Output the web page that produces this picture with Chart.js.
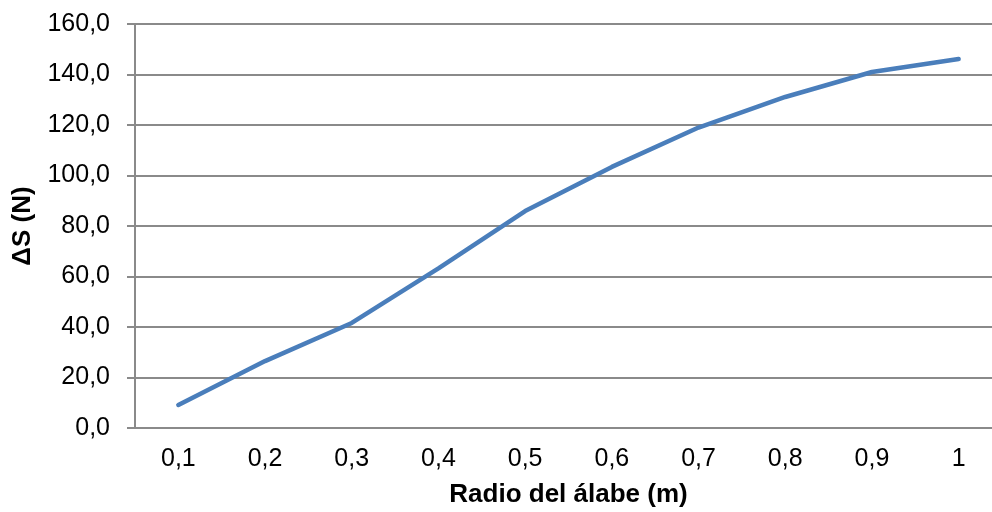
<!DOCTYPE html>
<html>
<head>
<meta charset="utf-8">
<script src="https://cdn.jsdelivr.net/npm/chart.js@4/dist/chart.umd.min.js"></script>
<style>
  html, body { margin: 0; padding: 0; background: #fff; overflow: hidden; }
  #wrap { position: relative; width: 1010px; height: 512px; }
</style>
</head>
<body>
<div id="wrap"><canvas id="chart"></canvas></div>
<script>
// Blade radius (m) and force difference ΔS (N)
const radios = ["0,1", "0,2", "0,3", "0,4", "0,5", "0,6", "0,7", "0,8", "0,9", "1"];
const deltaS = [9.1, 26.5, 41.6, 63.2, 85.9, 103.4, 119.0, 131.1, 141.0, 146.1];

const yMin = 0;
const yMax = 160;
const yStep = 20;

const fmt = v => v.toFixed(1).replace('.', ',');
const family = '"Liberation Sans", Arial, sans-serif';

new Chart(document.getElementById('chart'), {
  type: 'line',
  data: {
    labels: radios,
    datasets: [{
      data: deltaS,
      borderColor: '#4a7ebb',
      borderWidth: 4.5,
      pointRadius: 0,
      tension: 0,
      fill: false,
      borderCapStyle: 'round',
      borderJoinStyle: 'round'
    }]
  },
  options: {
    responsive: true,
    maintainAspectRatio: false,
    animation: false,
    layout: { padding: { top: 24, right: 8, left: 0, bottom: 0 } },
    plugins: { legend: { display: false }, tooltip: { enabled: false } },
    scales: {
      x: {
        offset: true,
        grid: { display: false, drawTicks: false },
        border: { display: true, color: '#8a8a8a', width: 2 },
        ticks: {
          color: '#000',
          padding: 16,
          maxRotation: 0,
          font: { family, size: 25 }
        },
        title: {
          display: true,
          text: 'Radio del álabe (m)',
          color: '#000',
          padding: { top: 4, bottom: 2 },
          font: { family, size: 26, weight: 'bold' }
        },
        afterFit: s => { s.height = 84; s.paddingLeft = 0; s.paddingRight = 0; }
      },
      y: {
        min: yMin,
        max: yMax,
        grid: { color: '#8a8a8a', lineWidth: 2, tickLength: 8 },
        border: { display: true, color: '#8a8a8a', width: 2 },
        ticks: {
          stepSize: yStep,
          color: '#000',
          padding: 17,
          callback: v => fmt(v),
          font: { family, size: 25 }
        },
        title: {
          display: true,
          text: 'ΔS (N)',
          color: '#000',
          padding: { top: 7, bottom: 0 },
          font: { family, size: 26, weight: 'bold' }
        },
        afterFit: s => { s.width = 135; s.paddingTop = 0; s.paddingBottom = 0; }
      }
    }
  }
});
</script>
</body>
</html>
